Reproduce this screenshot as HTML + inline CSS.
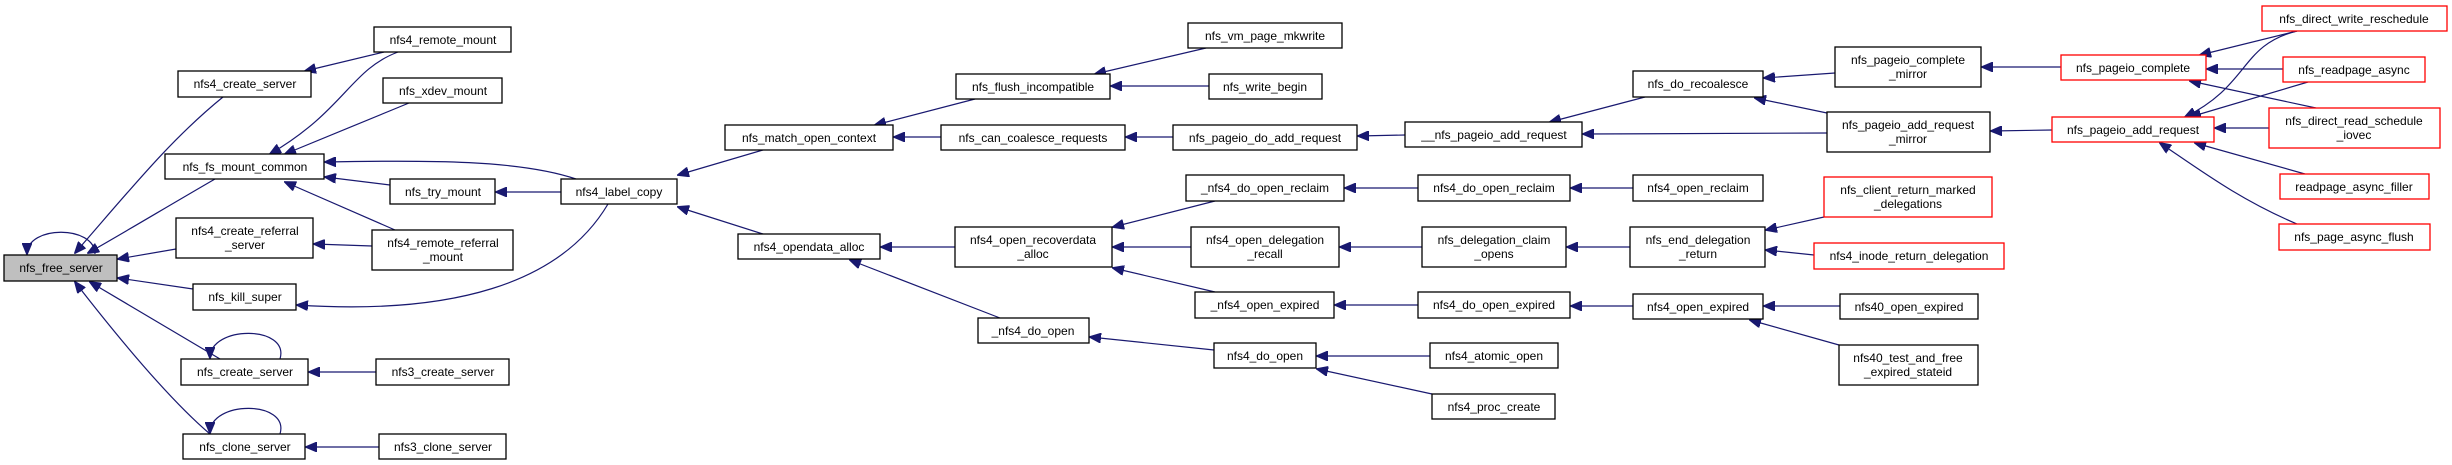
<!DOCTYPE html>
<html><head><meta charset="utf-8"><style>
html,body{margin:0;padding:0;background:#fff;}
svg{display:block;}
text{font-family:"Liberation Sans",Arial,sans-serif;font-size:12px;fill:#000;}
.b{fill:#fff;stroke:#000;stroke-width:1.3;}
.r{fill:#fff;stroke:#f00;stroke-width:1.3;}
.g{fill:#bfbfbf;stroke:#000;stroke-width:1.3;}
.e{fill:none;stroke:#191970;stroke-width:1.2;}
</style></head><body>
<svg width="2452" height="465" viewBox="0 0 2452 465" xmlns="http://www.w3.org/2000/svg">
<defs>
<marker id="a" markerWidth="12" markerHeight="10" refX="11" refY="5" orient="auto" markerUnits="userSpaceOnUse">
<path d="M0,0 L12,5 L0,10 z" fill="#191970" stroke="#191970"/>
</marker>
</defs>
<g marker-end="url(#a)">
<path class="e" d="M95,254 C95,225 27,225 27,254"/>
<path class="e" d="M223,97 C170,140 130,190 75,253"/>
<path class="e" d="M215,179 C170,205 120,235 88,253"/>
<path class="e" d="M176,249 L118,259"/>
<path class="e" d="M193,289 L118,278"/>
<path class="e" d="M220,359 L90,282"/>
<path class="e" d="M210,434 C170,400 120,340 75,282"/>
<path class="e" d="M280,359 C290,325 210,325 210,358"/>
<path class="e" d="M280,434 C290,400 210,400 210,433"/>
<path class="e" d="M384,52 L305,71"/>
<path class="e" d="M398,52 C350,70 345,110 270,154"/>
<path class="e" d="M409,103 L285,154"/>
<path class="e" d="M576,179 C520,160 430,160 325,162"/>
<path class="e" d="M390,185 L325,177"/>
<path class="e" d="M395,230 L285,182"/>
<path class="e" d="M561,192 L496,192"/>
<path class="e" d="M372,246 L314,244"/>
<path class="e" d="M608,204 C560,285 450,315 297,305"/>
<path class="e" d="M376,372 L309,372"/>
<path class="e" d="M379,447 L306,447"/>
<path class="e" d="M763,150 L678,175"/>
<path class="e" d="M763,234 L678,207"/>
<path class="e" d="M975,99 L875,125"/>
<path class="e" d="M941,137 L894,137"/>
<path class="e" d="M1206,48 L1095,74"/>
<path class="e" d="M1209,86 L1111,86"/>
<path class="e" d="M1173,137 L1126,137"/>
<path class="e" d="M1405,135 L1358,136"/>
<path class="e" d="M1645,97 L1550,122"/>
<path class="e" d="M1827,133 L1583,134"/>
<path class="e" d="M1835,73 L1764,78"/>
<path class="e" d="M1827,113 L1755,98"/>
<path class="e" d="M2061,67 L1982,67"/>
<path class="e" d="M2052,130 L1991,131"/>
<path class="e" d="M2297,31 L2200,55"/>
<path class="e" d="M2283,69 L2207,69"/>
<path class="e" d="M2316,108 L2190,81"/>
<path class="e" d="M2297,31 C2240,45 2250,85 2185,117"/>
<path class="e" d="M2308,82 L2190,117"/>
<path class="e" d="M2269,128 L2215,128"/>
<path class="e" d="M2305,174 L2195,143"/>
<path class="e" d="M2297,224 C2240,200 2200,170 2160,143"/>
<path class="e" d="M955,247 L881,247"/>
<path class="e" d="M1000,318 L850,260"/>
<path class="e" d="M1215,201 L1113,227"/>
<path class="e" d="M1191,247 L1113,247"/>
<path class="e" d="M1215,292 L1113,268"/>
<path class="e" d="M1418,188 L1345,188"/>
<path class="e" d="M1422,247 L1340,247"/>
<path class="e" d="M1418,305 L1335,305"/>
<path class="e" d="M1633,188 L1571,188"/>
<path class="e" d="M1630,247 L1567,247"/>
<path class="e" d="M1633,306 L1571,306"/>
<path class="e" d="M1824,217 L1766,230"/>
<path class="e" d="M1814,255 L1766,250"/>
<path class="e" d="M1840,306 L1764,306"/>
<path class="e" d="M1839,345 L1750,320"/>
<path class="e" d="M1214,350 L1090,337"/>
<path class="e" d="M1430,356 L1317,356"/>
<path class="e" d="M1432,394 L1317,369"/>
</g>
<g text-anchor="middle">
<rect class="g" x="4" y="255" width="113" height="26"/><text x="61" y="272">nfs_free_server</text>
<rect class="b" x="178" y="71" width="133" height="26"/><text x="245" y="88">nfs4_create_server</text>
<rect class="b" x="374" y="27" width="137" height="25"/><text x="443" y="44">nfs4_remote_mount</text>
<rect class="b" x="383" y="78" width="119" height="25"/><text x="443" y="95">nfs_xdev_mount</text>
<rect class="b" x="165" y="154" width="159" height="25"/><text x="245" y="171">nfs_fs_mount_common</text>
<rect class="b" x="390" y="179" width="105" height="25"/><text x="443" y="196">nfs_try_mount</text>
<rect class="b" x="561" y="179" width="116" height="25"/><text x="619" y="196">nfs4_label_copy</text>
<rect class="b" x="176" y="218" width="137" height="40"/><text x="245" y="235">nfs4_create_referral</text><text x="245" y="249">_server</text>
<rect class="b" x="372" y="230" width="141" height="40"/><text x="443" y="247">nfs4_remote_referral</text><text x="443" y="261">_mount</text>
<rect class="b" x="193" y="284" width="103" height="26"/><text x="245" y="301">nfs_kill_super</text>
<rect class="b" x="181" y="359" width="127" height="26"/><text x="245" y="376">nfs_create_server</text>
<rect class="b" x="376" y="359" width="133" height="26"/><text x="443" y="376">nfs3_create_server</text>
<rect class="b" x="183" y="434" width="122" height="25"/><text x="245" y="451">nfs_clone_server</text>
<rect class="b" x="379" y="434" width="127" height="25"/><text x="443" y="451">nfs3_clone_server</text>
<rect class="b" x="1188" y="23" width="154" height="25"/><text x="1265" y="40">nfs_vm_page_mkwrite</text>
<rect class="b" x="956" y="74" width="154" height="25"/><text x="1033" y="91">nfs_flush_incompatible</text>
<rect class="b" x="1209" y="74" width="113" height="25"/><text x="1265" y="91">nfs_write_begin</text>
<rect class="b" x="725" y="125" width="168" height="25"/><text x="809" y="142">nfs_match_open_context</text>
<rect class="b" x="941" y="125" width="184" height="25"/><text x="1033" y="142">nfs_can_coalesce_requests</text>
<rect class="b" x="1173" y="125" width="184" height="25"/><text x="1265" y="142">nfs_pageio_do_add_request</text>
<rect class="b" x="1405" y="122" width="177" height="25"/><text x="1494" y="139">__nfs_pageio_add_request</text>
<rect class="b" x="1186" y="175" width="158" height="26"/><text x="1265" y="192">_nfs4_do_open_reclaim</text>
<rect class="b" x="1418" y="175" width="152" height="26"/><text x="1494" y="192">nfs4_do_open_reclaim</text>
<rect class="b" x="738" y="234" width="142" height="25"/><text x="809" y="251">nfs4_opendata_alloc</text>
<rect class="b" x="955" y="227" width="157" height="40"/><text x="1033" y="244">nfs4_open_recoverdata</text><text x="1033" y="258">_alloc</text>
<rect class="b" x="1191" y="227" width="148" height="40"/><text x="1265" y="244">nfs4_open_delegation</text><text x="1265" y="258">_recall</text>
<rect class="b" x="1422" y="227" width="144" height="40"/><text x="1494" y="244">nfs_delegation_claim</text><text x="1494" y="258">_opens</text>
<rect class="b" x="1195" y="292" width="139" height="26"/><text x="1265" y="309">_nfs4_open_expired</text>
<rect class="b" x="1418" y="292" width="152" height="26"/><text x="1494" y="309">nfs4_do_open_expired</text>
<rect class="b" x="978" y="318" width="111" height="25"/><text x="1033" y="335">_nfs4_do_open</text>
<rect class="b" x="1214" y="343" width="102" height="25"/><text x="1265" y="360">nfs4_do_open</text>
<rect class="b" x="1430" y="343" width="128" height="25"/><text x="1494" y="360">nfs4_atomic_open</text>
<rect class="b" x="1432" y="394" width="123" height="25"/><text x="1494" y="411">nfs4_proc_create</text>
<rect class="b" x="1633" y="71" width="130" height="26"/><text x="1698" y="88">nfs_do_recoalesce</text>
<rect class="b" x="1835" y="47" width="146" height="40"/><text x="1908" y="64">nfs_pageio_complete</text><text x="1908" y="78">_mirror</text>
<rect class="b" x="1827" y="112" width="163" height="40"/><text x="1908" y="129">nfs_pageio_add_request</text><text x="1908" y="143">_mirror</text>
<rect class="b" x="1633" y="175" width="130" height="26"/><text x="1698" y="192">nfs4_open_reclaim</text>
<rect class="b" x="1630" y="227" width="135" height="40"/><text x="1698" y="244">nfs_end_delegation</text><text x="1698" y="258">_return</text>
<rect class="b" x="1633" y="294" width="130" height="25"/><text x="1698" y="311">nfs4_open_expired</text>
<rect class="r" x="1824" y="177" width="168" height="40"/><text x="1908" y="194">nfs_client_return_marked</text><text x="1908" y="208">_delegations</text>
<rect class="r" x="1814" y="243" width="190" height="26"/><text x="1909" y="260">nfs4_inode_return_delegation</text>
<rect class="b" x="1840" y="294" width="138" height="25"/><text x="1909" y="311">nfs40_open_expired</text>
<rect class="b" x="1839" y="345" width="139" height="40"/><text x="1908" y="362">nfs40_test_and_free</text><text x="1908" y="376">_expired_stateid</text>
<rect class="r" x="2061" y="55" width="145" height="25"/><text x="2133" y="72">nfs_pageio_complete</text>
<rect class="r" x="2052" y="117" width="162" height="25"/><text x="2133" y="134">nfs_pageio_add_request</text>
<rect class="r" x="2262" y="6" width="185" height="25"/><text x="2354" y="23">nfs_direct_write_reschedule</text>
<rect class="r" x="2283" y="57" width="142" height="25"/><text x="2354" y="74">nfs_readpage_async</text>
<rect class="r" x="2269" y="108" width="171" height="40"/><text x="2354" y="125">nfs_direct_read_schedule</text><text x="2354" y="139">_iovec</text>
<rect class="r" x="2280" y="174" width="149" height="25"/><text x="2354" y="191">readpage_async_filler</text>
<rect class="r" x="2279" y="224" width="151" height="26"/><text x="2354" y="241">nfs_page_async_flush</text>
</g>
</svg>
</body></html>
